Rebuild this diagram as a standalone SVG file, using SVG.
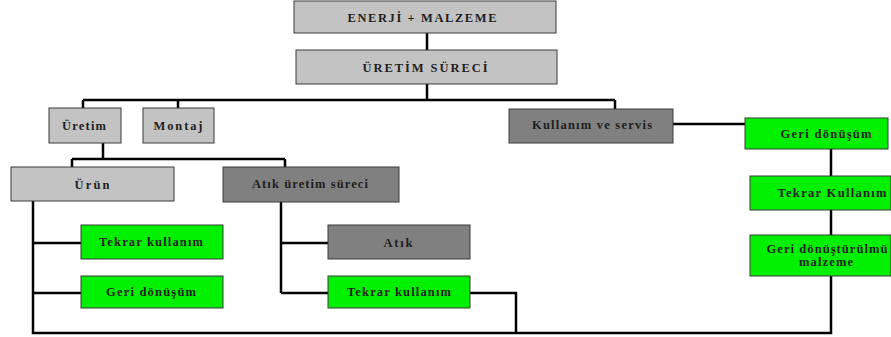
<svg xmlns="http://www.w3.org/2000/svg" width="891" height="337" viewBox="0 0 891 337">
<style>
.b rect{stroke:#3a3a3a;stroke-width:1}
.lg{fill:#c3c3c3}
.dg{fill:#808080}
.gr{fill:#00f000}
text{font-family:"Liberation Serif","Times New Roman",serif;font-weight:bold;font-size:12.5px;fill:#1e1e1e;text-anchor:middle}
#connectors{fill:none;stroke:#000;stroke-width:2.5}
</style>
<rect width="891" height="337" fill="#fff"/>
<g id="connectors">
<path d="M427,33V50M427,84V100M83,100H615M83,100V108M178,100V108M615,100V109"/>
<path d="M103,143V159M72,159H285M72,159V167M285,159V167"/>
<path d="M673,124H745M831,149V176M831,210V235M831,276V333H33V201M33,243H81M33,293H81"/>
<path d="M281,202V293M281,243H328M281,293H328M470,293H516V333"/>
</g>
<g id="n1" class="b"><rect class="lg" x="294" y="1" width="262" height="32"/><text x="422" y="22" textLength="149" lengthAdjust="spacing">ENERJİ + MALZEME</text></g>
<g id="n2" class="b"><rect class="lg" x="296" y="50" width="261" height="34"/><text x="425" y="72" textLength="125" lengthAdjust="spacing">ÜRETİM SÜRECİ</text></g>
<g id="n3" class="b"><rect class="lg" x="49" y="108" width="72" height="35"/><text x="84" y="130" textLength="44" lengthAdjust="spacing">Üretim</text></g>
<g id="n4" class="b"><rect class="lg" x="143" y="108" width="71" height="35"/><text x="178" y="130" textLength="49" lengthAdjust="spacing">Montaj</text></g>
<g id="n5" class="b"><rect class="dg" x="509" y="109" width="164" height="34"/><text x="592" y="129" textLength="120" lengthAdjust="spacing">Kullanım ve servis</text></g>
<g id="n6" class="b"><rect class="gr" x="745" y="118" width="143" height="31"/><text x="826" y="138" textLength="91" lengthAdjust="spacing">Geri dönüşüm</text></g>
<g id="n7" class="b"><rect class="lg" x="11" y="167" width="163" height="34"/><text x="92" y="189" textLength="35" lengthAdjust="spacing">Ürün</text></g>
<g id="n8" class="b"><rect class="dg" x="223" y="167" width="176" height="35"/><text x="310" y="188" textLength="116" lengthAdjust="spacing">Atık üretim süreci</text></g>
<g id="n9" class="b"><rect class="gr" x="750" y="176" width="141" height="34"/><text x="832" y="197" textLength="109" lengthAdjust="spacing">Tekrar Kullanım</text></g>
<g id="n10" class="b"><rect class="gr" x="81" y="225" width="142" height="34"/><text x="151" y="246" textLength="104" lengthAdjust="spacing">Tekrar kullanım</text></g>
<g id="n11" class="b"><rect class="dg" x="328" y="225" width="142" height="34"/><text x="398" y="247" textLength="29" lengthAdjust="spacing">Atık</text></g>
<g id="n12" class="b"><rect class="gr" x="750" y="235" width="141" height="41"/><text x="827" y="253" textLength="121" lengthAdjust="spacing">Geri dönüştürülmü</text><text x="826" y="266" textLength="54" lengthAdjust="spacing">malzeme</text></g>
<g id="n13" class="b"><rect class="gr" x="81" y="276" width="142" height="32"/><text x="151" y="296" textLength="90" lengthAdjust="spacing">Geri dönüşüm</text></g>
<g id="n14" class="b"><rect class="gr" x="328" y="276" width="142" height="32"/><text x="399" y="296" textLength="104" lengthAdjust="spacing">Tekrar kullanım</text></g>
</svg>
